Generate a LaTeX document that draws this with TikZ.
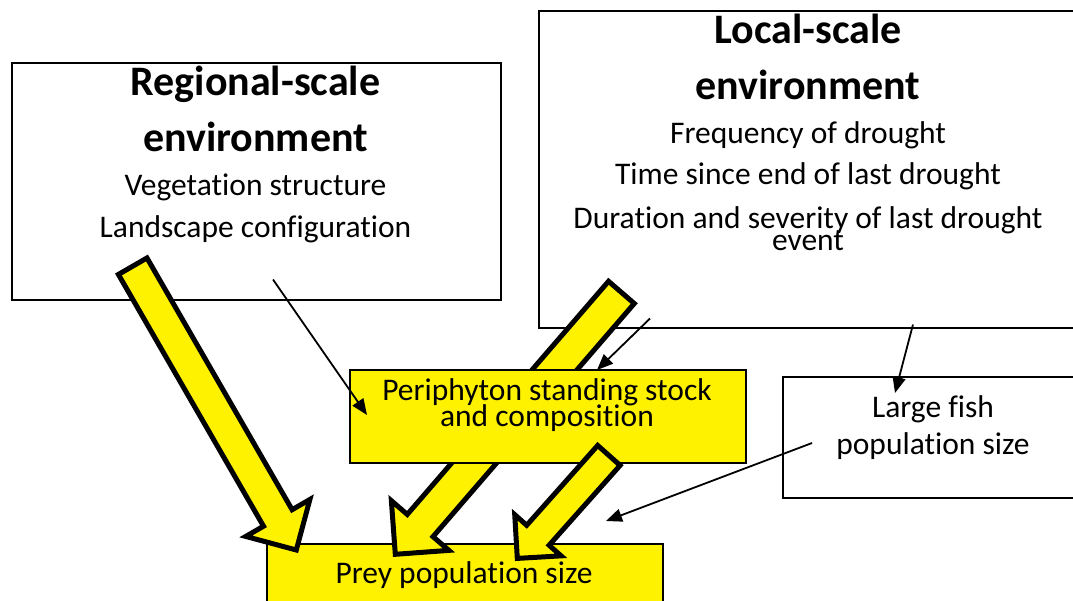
\documentclass[tikz,border=0pt]{standalone}
\usepackage{fontspec}
\setmainfont{Carlito}[Ligatures={NoCommon}]
\usetikzlibrary{calc,arrows.meta}

% Block arrow: #1 name, #2 tail, #3 tip, #4 half shaft width, #5 half head width, #6 head length
\newcommand{\blockarrow}[6]{%
  \coordinate (#1-n) at ($(#3)!#6!(#2)$);
  \draw[bigarr] ($(#2)!#4!90:(#3)$) -- ($(#1-n)!#4!90:(#3)$) -- ($(#1-n)!#5!90:(#3)$)
    -- (#3) -- ($(#1-n)!#5!-90:(#3)$) -- ($(#1-n)!#4!-90:(#3)$) -- ($(#2)!#4!-90:(#3)$) -- cycle;
}

\begin{document}
\begin{tikzpicture}[x=1pt,y=-1pt,
  box/.style={draw=black, line width=1.5pt, anchor=north west, inner sep=0pt},
  whitebox/.style={box, fill=white},
  yellowbox/.style={box, fill=yellow},
  title/.style={anchor=base, inner sep=0pt, font=\fontsize{42}{50}\selectfont\bfseries},
  body/.style={anchor=base, inner sep=0pt, font=\fontsize{31.5}{38}\selectfont},
  bigarr/.style={draw=black, fill=yellow, line width=5pt, line join=miter},
  conn/.style={draw=black, line width=1.8pt, -{Triangle[length=16pt,width=13pt]}}]
\useasboundingbox (0,0) rectangle (1073,600);
\clip (0,0) rectangle (1073,600);

% boxes
\node[yellowbox, minimum width=396, minimum height=70] (prey) at (266,543) {};
\node[whitebox, minimum width=489, minimum height=237] (reg) at (11,62) {};
\node[whitebox, minimum width=540, minimum height=317] (loc) at (538,10) {};
\node[whitebox, minimum width=302, minimum height=121] (fish) at (782,376) {};

% texts of the boxes
\node[title] (reg-t1) at (255.5,95) {Regional-scale};
\node[title] (reg-t2) at (255.5,151) {environment};
\node[body]  (reg-l1) at (255.5,195) {Vegetation structure};
\node[body]  (reg-l2) at (255.5,237) {Landscape configuration};

\node[title] (loc-t1) at (808,43) {Local-scale};
\node[title] (loc-t2) at (808,99) {environment};
\node[body]  (loc-l1) at (808,143) {Frequency of drought};
\node[body]  (loc-l2) at (808,184) {Time since end of last drought};
\node[body]  (loc-l3) at (808,228) {Duration and severity of last drought};
\node[body]  (loc-l4) at (808,250) {event};

\node[body] (fish-l1) at (933,417) {Large fish};
\node[body] (fish-l2) at (933,454) {population size};

\node[body] (prey-l1) at (464,583) {Prey population size};

% wide arrow from the local box, passing behind the periphyton box
\coordinate (a2-tail) at ($(loc.south west)+(83.4,-36.1)$);
\coordinate (a2-tip) at ($(prey.north west)+(129.3,11.3)$);
\blockarrow{a2}{a2-tail}{a2-tip}{17pt}{38pt}{38pt}

\node[yellowbox, minimum width=396, minimum height=93] (per) at (349,369) {};
\node[body] (per-l1) at (547,400) {Periphyton standing stock};
\node[body] (per-l2) at (547,426) {and composition};

% wide arrow from the regional box
\coordinate (a1-tail) at ($(reg.south west)+(121.7,-34.3)$);
\coordinate (a1-tip) at ($(prey.north west)+(30.3,7)$);
\blockarrow{a1}{a1-tail}{a1-tip}{16.5pt}{37pt}{37pt}

% wide arrow from the periphyton box
\coordinate (a3-tail) at ($(per.south west)+(259.9,-8.1)$);
\coordinate (a3-tip) at ($(prey.north west)+(251.3,15.4)$);
\blockarrow{a3}{a3-tail}{a3-tip}{15pt}{31pt}{31pt}

% thin connectors
\coordinate (regOut) at ($(reg.south west)+(262,-21)$);
\coordinate (perInA) at ($(per.north west)+(18,46)$);
\draw[conn] (regOut) -- (perInA);

\coordinate (locOutA) at ($(loc.south west)+(112,-10)$);
\coordinate (perInB) at ($(per.north west)+(248,1)$);
\draw[conn] (locOutA) -- (perInB);

\coordinate (locOutB) at ($(loc.south west)+(375,-4)$);
\coordinate (fishIn) at ($(fish.north west)+(113,17)$);
\draw[conn] (locOutB) -- (fishIn);

\coordinate (fishOut) at ($(fish.north west)+(30,67)$);
\coordinate (preyIn) at ($(prey.north west)+(340,-22)$);
\draw[conn] (fishOut) -- (preyIn);
\end{tikzpicture}
\end{document}
